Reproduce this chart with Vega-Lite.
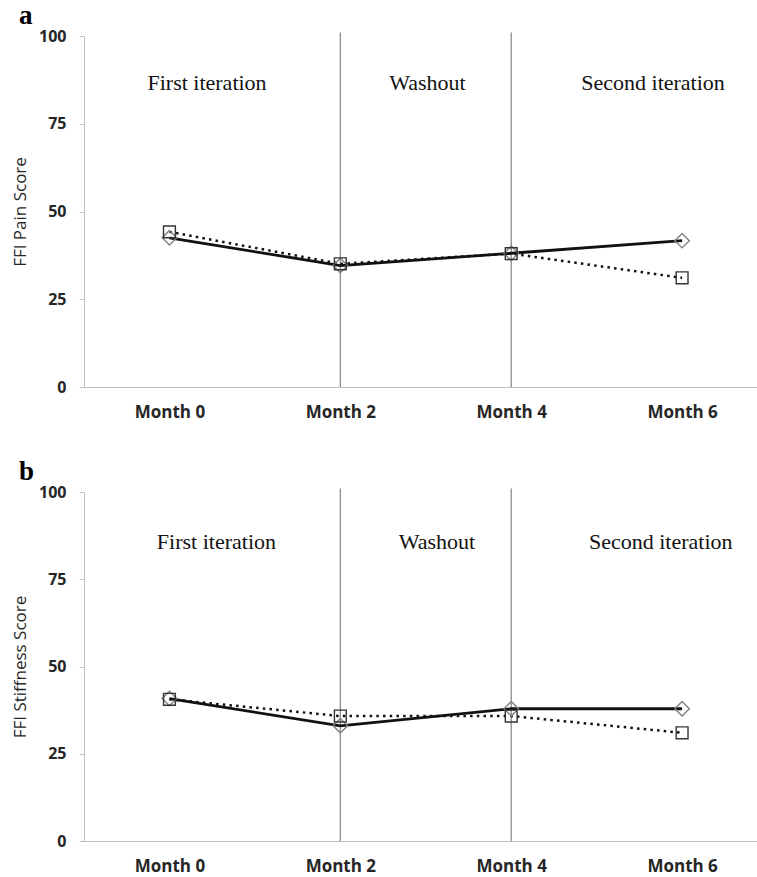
{
  "$schema": "https://vega.github.io/schema/vega-lite/v6.json",
  "padding": {"left": 11, "top": 2, "right": 0, "bottom": 0},
  "spacing": 38,
  "config": {
    "view": {"stroke": null},
    "axis": {
      "domainColor": "#bfbfbf",
      "tickColor": "#bfbfbf",
      "grid": false,
      "labelFont": "Open Sans",
      "labelFontWeight": "bold",
      "labelColor": "#262626",
      "titleFont": "Open Sans",
      "titleFontWeight": "normal",
      "titleColor": "#262626"
    },
    "title": {"font": "Liberation Serif", "fontSize": 27, "fontWeight": "bold", "color": "#000000"}
  },
  "datasets": {
    "scores": [
      {"panel": "a", "series": "Series 1", "month": 0, "score": 42.5},
      {"panel": "a", "series": "Series 1", "month": 2, "score": 34.6},
      {"panel": "a", "series": "Series 1", "month": 4, "score": 38.1},
      {"panel": "a", "series": "Series 1", "month": 6, "score": 41.7},
      {"panel": "a", "series": "Series 2", "month": 0, "score": 44.2},
      {"panel": "a", "series": "Series 2", "month": 2, "score": 35.1},
      {"panel": "a", "series": "Series 2", "month": 4, "score": 38.0},
      {"panel": "a", "series": "Series 2", "month": 6, "score": 31.1},
      {"panel": "b", "series": "Series 1", "month": 0, "score": 40.8},
      {"panel": "b", "series": "Series 1", "month": 2, "score": 33.0},
      {"panel": "b", "series": "Series 1", "month": 4, "score": 37.9},
      {"panel": "b", "series": "Series 1", "month": 6, "score": 37.9},
      {"panel": "b", "series": "Series 2", "month": 0, "score": 40.6},
      {"panel": "b", "series": "Series 2", "month": 2, "score": 35.8},
      {"panel": "b", "series": "Series 2", "month": 4, "score": 35.8},
      {"panel": "b", "series": "Series 2", "month": 6, "score": 31.0}
    ],
    "boundaries": [
      {"month": 2, "low": 0, "high": 101},
      {"month": 4, "low": 0, "high": 101}
    ],
    "phases": [
      {"panel": "a", "label": "First iteration", "month": 0.44, "score": 84.6},
      {"panel": "a", "label": "Washout", "month": 3.02, "score": 84.6},
      {"panel": "a", "label": "Second iteration", "month": 5.66, "score": 84.6},
      {"panel": "b", "label": "First iteration", "month": 0.55, "score": 83.7},
      {"panel": "b", "label": "Washout", "month": 3.13, "score": 83.7},
      {"panel": "b", "label": "Second iteration", "month": 5.75, "score": 83.7}
    ]
  },
  "vconcat": [
    {
      "title": {"text": "a", "anchor": "start", "frame": "group", "dx": -65, "offset": -23, "baseline": "alphabetic"},
      "width": 675,
      "height": 351,
      "layer": [
        {
          "data": {"name": "boundaries"},
          "mark": {"type": "rule", "color": "#8c8c8c", "strokeWidth": 1.3},
          "encoding": {
            "x": {"field": "month", "type": "quantitative", "scale": {"domain": [-1, 6.9], "nice": false, "zero": false},
              "axis": {"values": [0, 2, 4, 6], "labelExpr": "'Month ' + datum.value", "ticks": false, "labelPadding": 17, "labelFontSize": 17, "labelDx": 7, "title": null}},
            "y": {"field": "low", "type": "quantitative", "scale": {"domain": [0, 100], "nice": false},
              "axis": {"values": [0, 25, 50, 75, 100], "tickSize": 5, "labelPadding": 13, "labelFontSize": 16, "title": "FFI Pain Score", "titleFontSize": 17, "titlePadding": 9}},
            "y2": {"field": "high"}
          }
        },
        {
          "data": {"name": "scores"},
          "transform": [{"filter": "datum.panel == 'a' && datum.series == 'Series 1'"}],
          "mark": {"type": "line", "color": "#111111", "strokeWidth": 2.8},
          "encoding": {"x": {"field": "month", "type": "quantitative"}, "y": {"field": "score", "type": "quantitative"}}
        },
        {
          "data": {"name": "scores"},
          "transform": [{"filter": "datum.panel == 'a' && datum.series == 'Series 2'"}],
          "mark": {"type": "line", "color": "#111111", "strokeWidth": 2.5, "strokeDash": [2.5, 4.2], "strokeCap": "butt"},
          "encoding": {"x": {"field": "month", "type": "quantitative"}, "y": {"field": "score", "type": "quantitative"}}
        },
        {
          "data": {"name": "scores"},
          "transform": [{"filter": "datum.panel == 'a' && datum.series == 'Series 1'"}],
          "mark": {"type": "point", "shape": "diamond", "filled": false, "size": 210, "stroke": "#808080", "strokeWidth": 1.4, "opacity": 1},
          "encoding": {"x": {"field": "month", "type": "quantitative"}, "y": {"field": "score", "type": "quantitative"}}
        },
        {
          "data": {"name": "scores"},
          "transform": [{"filter": "datum.panel == 'a' && datum.series == 'Series 2'"}],
          "mark": {"type": "point", "shape": "square", "filled": false, "size": 140, "stroke": "#333333", "strokeWidth": 1.4, "opacity": 1},
          "encoding": {"x": {"field": "month", "type": "quantitative"}, "y": {"field": "score", "type": "quantitative"}}
        },
        {
          "data": {"name": "phases"},
          "transform": [{"filter": "datum.panel == 'a'"}],
          "mark": {"type": "text", "font": "Liberation Serif", "fontSize": 22, "baseline": "alphabetic", "align": "center", "color": "#111111"},
          "encoding": {"x": {"field": "month", "type": "quantitative"}, "y": {"field": "score", "type": "quantitative"}, "text": {"field": "label"}}
        }
      ]
    },
    {
      "title": {"text": "b", "anchor": "start", "frame": "group", "dx": -65, "offset": -23, "baseline": "alphabetic"},
      "width": 675,
      "height": 349,
      "layer": [
        {
          "data": {"name": "boundaries"},
          "mark": {"type": "rule", "color": "#8c8c8c", "strokeWidth": 1.3},
          "encoding": {
            "x": {"field": "month", "type": "quantitative", "scale": {"domain": [-1, 6.9], "nice": false, "zero": false},
              "axis": {"values": [0, 2, 4, 6], "labelExpr": "'Month ' + datum.value", "ticks": false, "labelPadding": 17, "labelFontSize": 17, "labelDx": 7, "title": null}},
            "y": {"field": "low", "type": "quantitative", "scale": {"domain": [0, 100], "nice": false},
              "axis": {"values": [0, 25, 50, 75, 100], "tickSize": 5, "labelPadding": 13, "labelFontSize": 16, "title": "FFI Stiffness Score", "titleFontSize": 17, "titlePadding": 9}},
            "y2": {"field": "high"}
          }
        },
        {
          "data": {"name": "scores"},
          "transform": [{"filter": "datum.panel == 'b' && datum.series == 'Series 1'"}],
          "mark": {"type": "line", "color": "#111111", "strokeWidth": 2.8},
          "encoding": {"x": {"field": "month", "type": "quantitative"}, "y": {"field": "score", "type": "quantitative"}}
        },
        {
          "data": {"name": "scores"},
          "transform": [{"filter": "datum.panel == 'b' && datum.series == 'Series 2'"}],
          "mark": {"type": "line", "color": "#111111", "strokeWidth": 2.5, "strokeDash": [2.5, 4.2], "strokeCap": "butt"},
          "encoding": {"x": {"field": "month", "type": "quantitative"}, "y": {"field": "score", "type": "quantitative"}}
        },
        {
          "data": {"name": "scores"},
          "transform": [{"filter": "datum.panel == 'b' && datum.series == 'Series 1'"}],
          "mark": {"type": "point", "shape": "diamond", "filled": false, "size": 210, "stroke": "#808080", "strokeWidth": 1.4, "opacity": 1},
          "encoding": {"x": {"field": "month", "type": "quantitative"}, "y": {"field": "score", "type": "quantitative"}}
        },
        {
          "data": {"name": "scores"},
          "transform": [{"filter": "datum.panel == 'b' && datum.series == 'Series 2'"}],
          "mark": {"type": "point", "shape": "square", "filled": false, "size": 140, "stroke": "#333333", "strokeWidth": 1.4, "opacity": 1},
          "encoding": {"x": {"field": "month", "type": "quantitative"}, "y": {"field": "score", "type": "quantitative"}}
        },
        {
          "data": {"name": "phases"},
          "transform": [{"filter": "datum.panel == 'b'"}],
          "mark": {"type": "text", "font": "Liberation Serif", "fontSize": 22, "baseline": "alphabetic", "align": "center", "color": "#111111"},
          "encoding": {"x": {"field": "month", "type": "quantitative"}, "y": {"field": "score", "type": "quantitative"}, "text": {"field": "label"}}
        }
      ]
    }
  ]
}
